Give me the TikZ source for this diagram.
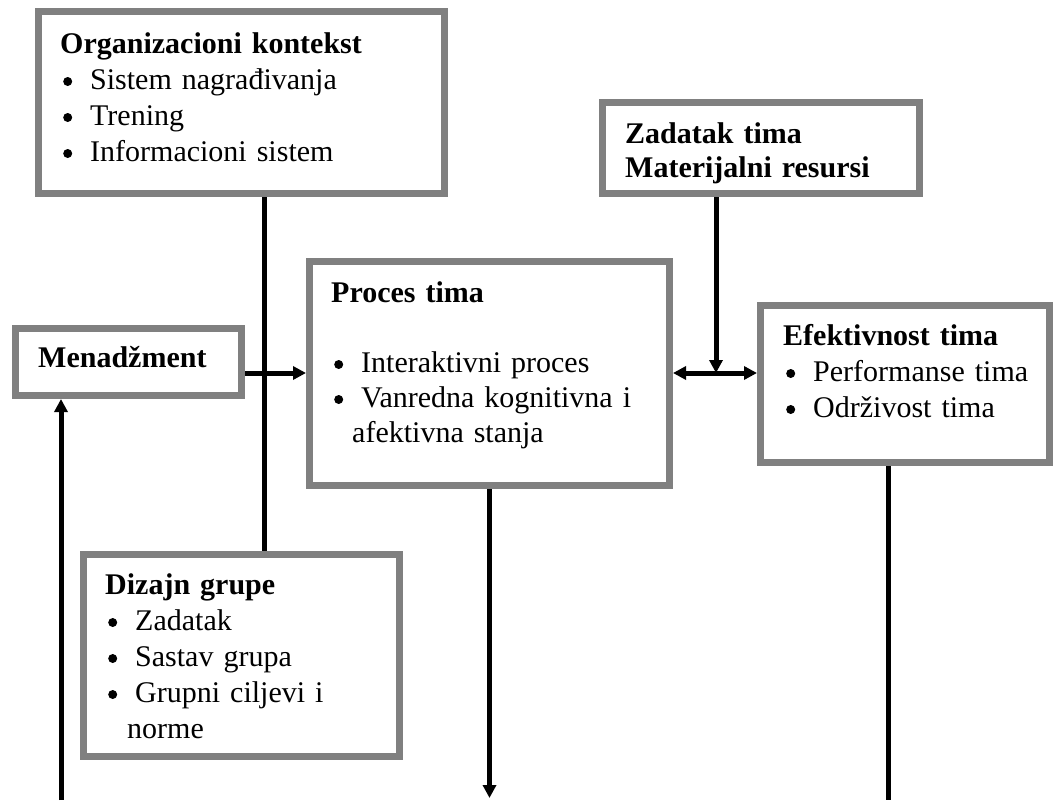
\documentclass[tikz,border=0pt]{standalone}
\usepackage{fontspec}
\setmainfont{Liberation Serif}
\usetikzlibrary{arrows.meta}
\newcommand{\blt}{\makebox[30pt][l]{\hspace{3pt}\tikz[x=1pt,y=1pt,baseline=0pt]\fill[black] (4.5,7.5) circle (4.5);}}

\begin{document}
\begin{tikzpicture}[x=1pt,y=-1pt,
    box/.style={draw=gray,line width=7pt,fill=white,anchor=north west,inner sep=0pt},
    txt/.style={anchor=base west,inner sep=0pt,text width=360pt,align=left,font=\fontsize{30}{36}\selectfont},
    link/.style={line width=5pt},
    arr/.style={line width=5pt,-{Triangle[length=13pt,width=13pt]}},
    arrtwo/.style={line width=5pt,{Triangle[length=13pt,width=13pt]}-{Triangle[length=13pt,width=13pt]}}]
    \useasboundingbox (0,0) rectangle (1054,800);
    % Boxes
    \node[box,minimum width=406pt,minimum height=182pt] (org) at (35,8) {};
    \node[box,minimum width=317pt,minimum height=91pt] (zad) at (599,99) {};
    \node[box,minimum width=226pt,minimum height=67pt] (men) at (12,325) {};
    \node[box,minimum width=360pt,minimum height=224pt] (proc) at (306,258) {};
    \node[box,minimum width=289pt,minimum height=157pt] (eff) at (757,302) {};
    \node[box,minimum width=316pt,minimum height=202pt] (diz) at (80,551) {};
    % Texts
    \node[txt] (orgtxt) at (60,53) {\textbf{Organizacioni kontekst}\\
        \blt Sistem nagrađivanja\\
        \blt Trening\\
        \blt Informacioni sistem};
    \node[txt,font=\fontsize{30}{34}\selectfont] (zadtxt) at (625,143) {\textbf{Zadatak tima}\\
        \textbf{Materijalni resursi}};
    \node[txt] (mentxt) at (38,367) {\textbf{Menadžment}};
    \node[txt,font=\fontsize{30}{35}\selectfont] (proctxt) at (331,302) {\textbf{Proces tima}\\[35pt]
        \blt Interaktivni proces\\
        \blt Vanredna kognitivna i\\
        \hspace*{21pt}afektivna stanja};
    \node[txt] (efftxt) at (783,345) {\textbf{Efektivnost tima}\\
        \blt Performanse tima\\
        \blt Održivost tima};
    \node[txt] (diztxt) at (105,594) {\textbf{Dizajn grupe}\\
        \blt Zadatak\\
        \blt Sastav grupa\\
        \blt Grupni ciljevi i\\
        \hspace*{22pt}norme};
    % Connectors
    \coordinate (cross) at (264,373);
    \coordinate (junc) at (716,373);
    \coordinate (procout) at (489.5,798);
    \coordinate (effout) at (888,800);
    \coordinate (menin) at (61,800);
    \draw[link] (org.south -| cross) -- (diz.north -| cross);
    \draw[arr] (men.east |- cross) -- (proc.west |- cross);
    \draw[arr] (zad.south -| junc) -- (junc);
    \draw[arrtwo] (proc.east |- junc) -- (eff.west |- junc);
    \draw[arr] (proc.south) -- (procout);
    \draw[link] (eff.south -| effout) -- (effout);
    \draw[arr] (menin) -- (men.south -| menin);
\end{tikzpicture}
\end{document}
